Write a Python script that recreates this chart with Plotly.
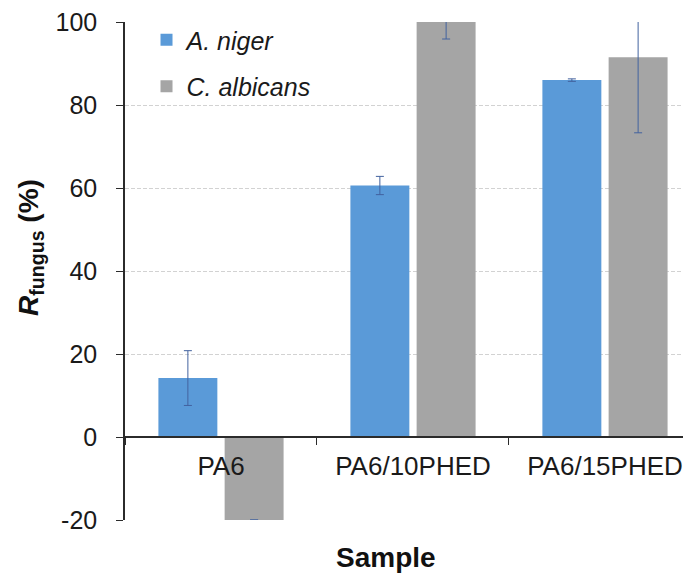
import plotly.graph_objects as go

categories = ["PA6", "PA6/10PHED", "PA6/15PHED"]
series_names = ["A. niger", "C. albicans"]
niger_values = [14.2, 60.6, 86.0]
niger_errors = [6.6, 2.2, 0.3]
albicans_values = [-20.0, 100.0, 91.5]
albicans_errors = [0.0, 4.1, 18.2]
y_ticks = [-20, 0, 20, 40, 60, 80, 100]
y_tick_labels = ["-20", "0", "20", "40", "60", "80", "100"]

FONT = "Arial, Liberation Sans, sans-serif"
ERR_COLOR = "#42629f"

fig = go.Figure()
fig.add_trace(go.Bar(
    x=categories, y=niger_values, name="<i>" + series_names[0] + "</i>",
    marker=dict(color="#5a9ad8", line=dict(width=0)),
    error_y=dict(type="data", array=niger_errors, color=ERR_COLOR, thickness=1, width=4),
    legendgroup="a",
))
fig.add_trace(go.Bar(
    x=categories, y=albicans_values, name="<i>" + series_names[1] + "</i>",
    marker=dict(color="#a5a5a5", line=dict(width=0)),
    error_y=dict(type="data", array=albicans_errors, color=ERR_COLOR, thickness=1, width=4),
    legendgroup="b",
))

fig.update_layout(
    width=683, height=565,
    margin=dict(l=117, r=0, t=14, b=53, autoexpand=False),
    paper_bgcolor="white", plot_bgcolor="white",
    barmode="group", bargap=0.31, bargroupgap=0.11,
    font=dict(family=FONT, color="#1a1a1a", size=24),
    showlegend=True,
    legend=dict(
        x=0.038, y=1.01, xanchor="left", yanchor="top",
        bgcolor="rgba(0,0,0,0)", font=dict(size=25, color="#1a1a1a"),
        traceorder="grouped", tracegroupgap=11, itemwidth=30,
    ),
    xaxis=dict(
        type="category", range=[-0.5, 2.448], automargin=False,
        anchor="free", position=83 / 498,
        showline=True, linecolor="#2b2b2b", linewidth=1.5,
        ticks="outside", tickson="boundaries", ticklen=7, tickcolor="#2b2b2b",
        showgrid=False, tickfont=dict(size=26),
        ticklabelstandoff=6,
    ),
    yaxis=dict(
        range=[-20, 100], tickvals=y_ticks, ticktext=y_tick_labels, automargin=False,
        ticklabeloverflow="allow",
        showline=True, linecolor="#2b2b2b", linewidth=1.5,
        ticks="outside", ticklen=7, tickcolor="#2b2b2b",
        showgrid=True, gridcolor="#d2d2d2", gridwidth=1, griddash="4px,2px",
        zeroline=False, tickfont=dict(size=25), ticklabelstandoff=14,
    ),
    annotations=[
        dict(text="<b><i>R</i><sub>fungus</sub> (%)</b>", xref="paper", yref="paper",
             x=-0.168, y=0.548, xanchor="center", yanchor="middle",
             textangle=-90, showarrow=False, font=dict(size=28, color="#111")),
        dict(text="<b>Sample</b>", xref="paper", yref="paper",
             x=0.461, y=-0.076, xanchor="center", yanchor="middle",
             showarrow=False, font=dict(size=28, color="#111")),
    ],
)

fig.write_html("out.html")
